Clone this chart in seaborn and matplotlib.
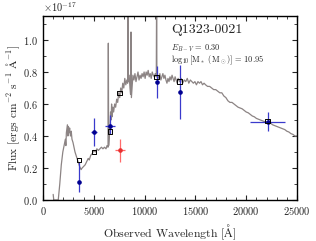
import numpy as np
import pandas as pd
import matplotlib
matplotlib.use("Agg")
import matplotlib.pyplot as plt
import seaborn as sns
from matplotlib.ticker import MultipleLocator, ScalarFormatter

# ---- data (flux in units of 1e-17 erg/cm2/s/A) ----
spec_wave = [1000, 1060, 1500, 1650, 1800, 1950, 2100, 2200, 2250, 2300, 2400, 2450, 2500, 2560,
             2620, 2700, 2780, 2850, 2950, 3050, 3150, 3300, 3450, 3600, 3750, 3850, 4000, 4150,
             4300, 4450, 4550, 4700, 4850, 5000, 5150, 5300, 5450, 5600, 5750, 5900, 6050, 6200,
             6300, 6400, 6430, 6460, 6520, 6600, 6650, 6700, 6750, 6800, 6870, 6950, 7050, 7150,
             7250, 7350, 7450, 7550, 7650, 7750, 7850, 7950, 8050, 8150, 8250, 8330, 8360, 8390,
             8480, 8560, 8620, 8660, 8700, 8780, 8850, 8950, 9050, 9150, 9250, 9350, 9450, 9550,
             9650, 9750, 9850, 9950, 10050, 10150, 10250, 10350, 10450, 10550, 10650, 10750, 10850,
             10950, 11050, 11150, 11180, 11210, 11300, 11400, 11500, 11600, 11700, 11800, 11900,
             12000, 12100, 12200, 12300, 12400, 12500, 12600, 12700, 12800, 12900, 13000, 13100,
             13200, 13300, 13450, 13600, 13750, 13900, 14050, 14200, 14350, 14500, 14650, 14800,
             14950, 15100, 15250, 15400, 15550, 15700, 15850, 16000, 16200, 16400, 16600, 16800,
             17000, 17200, 17400, 17600, 17800, 18000, 18200, 18400, 18600, 18800, 19000, 19200,
             19400, 19600, 19800, 20000, 20200, 20400, 20600, 20800, 21000, 21200, 21400, 21600,
             21800, 22000, 22200, 22400, 22600, 22800, 23000, 23200, 23400, 23600, 23800, 24000,
             24200, 24400, 24600, 24800, 25000, 25200]
spec_flux = [0.035, 0.0, 0.0, 0.10, 0.22, 0.30, 0.35, 0.38, 0.34, 0.42, 0.47, 0.40, 0.46, 0.42,
             0.45, 0.40, 0.43, 0.38, 0.36, 0.33, 0.30, 0.27, 0.24, 0.21, 0.19, 0.20, 0.21, 0.22,
             0.24, 0.26, 0.25, 0.28, 0.29, 0.31, 0.30, 0.32, 0.31, 0.32, 0.33, 0.32, 0.33, 0.32,
             0.34, 0.33, 0.98, 0.34, 0.40, 0.45, 0.55, 0.50, 0.60, 0.52, 0.58, 0.55, 0.60, 0.58,
             0.63, 0.61, 0.67, 0.64, 0.70, 0.67, 0.73, 0.70, 0.76, 0.72, 0.75, 0.73, 1.30, 0.74,
             0.78, 0.70, 0.66, 1.05, 0.64, 0.72, 0.78, 0.75, 0.79, 0.74, 0.77, 0.80, 0.75, 0.78,
             0.76, 0.79, 0.77, 0.80, 0.76, 0.80, 0.78, 0.81, 0.77, 0.79, 0.76, 0.80, 0.78,
             0.77, 0.79, 0.77, 1.30, 0.77, 0.78, 0.76, 0.79, 0.75, 0.77, 0.79, 0.76,
             0.78, 0.75, 0.73, 0.76, 0.74, 0.77, 0.75, 0.78, 0.76, 0.74, 0.77, 0.75,
             0.73, 0.76, 0.74, 0.76, 0.73, 0.75, 0.74, 0.76, 0.73, 0.75, 0.74, 0.73,
             0.74, 0.72, 0.74, 0.73, 0.74, 0.72, 0.73, 0.72, 0.71, 0.71, 0.70, 0.69,
             0.69, 0.68, 0.67, 0.67, 0.65, 0.64, 0.62, 0.61, 0.61, 0.60, 0.59, 0.58,
             0.575, 0.57, 0.56, 0.55, 0.545, 0.535, 0.525, 0.52, 0.51, 0.505, 0.50, 0.495,
             0.49, 0.49, 0.485, 0.48, 0.47, 0.465, 0.46, 0.455, 0.45, 0.445, 0.44, 0.43,
             0.425, 0.415, 0.41, 0.40, 0.40, 0.395]

# observed photometry (blue)
obs_wave = [3550, 5000, 6600, 11200, 13450, 22100]
obs_flux = [0.11, 0.425, 0.465, 0.74, 0.675, 0.49]
obs_err_lo = [0.06, 0.085, 0.05, 0.10, 0.17, 0.06]
obs_err_hi = [0.13, 0.085, 0.065, 0.10, 0.17, 0.06]
obs_xerr = [0, 300, 500, 0, 0, 1700]

# excluded point (red)
red_wave = [7600]
red_flux = [0.31]
red_err = [0.07]
red_xerr = [500]

# model photometry (open squares)
mod_wave = [3550, 5000, 6600, 7500, 11200, 13450, 22100]
mod_flux = [0.25, 0.30, 0.43, 0.67, 0.77, 0.74, 0.495]

SCALE = 1e-17

sns.set_style("ticks")
plt.rcParams['font.family'] = 'serif'
plt.rcParams['font.serif'] = ['cmr10', 'DejaVu Serif']
plt.rcParams['mathtext.fontset'] = 'cm'
plt.rcParams['axes.formatter.use_mathtext'] = True
plt.rcParams['axes.unicode_minus'] = True

fig = plt.figure(figsize=(3.16, 2.41), dpi=100)
ax = fig.add_axes([0.1361, 0.1701, 0.8038, 0.7635])

spec = pd.DataFrame({"wave": spec_wave, "flux": np.array(spec_flux) * SCALE})
sns.lineplot(data=spec, x="wave", y="flux", ax=ax, color="#8c8484", lw=0.9,
             estimator=None, sort=False)

ax.errorbar(obs_wave, np.array(obs_flux) * SCALE,
            yerr=[np.array(obs_err_lo) * SCALE, np.array(obs_err_hi) * SCALE],
            xerr=obs_xerr, fmt='o', ms=2.3, color='#000090', ecolor='#3a3acc',
            elinewidth=0.9, capsize=0, zorder=4)
ax.errorbar(red_wave, np.array(red_flux) * SCALE, yerr=np.array(red_err) * SCALE,
            xerr=red_xerr, fmt='o', ms=2.3, color='#e83030', ecolor='#ff6a6a',
            elinewidth=0.9, capsize=0, zorder=4)

mod = pd.DataFrame({"wave": mod_wave, "flux": np.array(mod_flux) * SCALE})
sns.scatterplot(data=mod, x="wave", y="flux", ax=ax, marker='s', s=11,
                facecolor='none', edgecolor='black', linewidth=0.7, zorder=5)

ax.set_xlim(0, 25000)
ax.set_ylim(0, 1.15e-17)
ax.xaxis.set_major_locator(MultipleLocator(5000))
ax.xaxis.set_minor_locator(MultipleLocator(1000))
ax.yaxis.set_major_locator(MultipleLocator(0.2e-17))
ax.yaxis.set_minor_locator(MultipleLocator(0.1e-17))
fmt = ScalarFormatter(useMathText=True)
fmt.set_powerlimits((0, 0))
ax.yaxis.set_major_formatter(fmt)
ax.tick_params(which='both', direction='in', top=True, right=True, labelsize=7.5)
ax.tick_params(which='major', length=3.5, width=0.8)
ax.tick_params(which='minor', length=2, width=0.6)
ax.yaxis.get_offset_text().set_fontsize(7.5)
for s in ax.spines.values():
    s.set_linewidth(1.0)
    s.set_color('black')

ax.set_xlabel(r'Observed Wavelength [$\mathrm{\AA}$]', fontsize=8.5)
ax.set_ylabel(r'Flux [ergs cm$^{-2}$ s$^{-1}$ $\mathrm{\AA}^{-1}$]', fontsize=8.2,
              labelpad=1)

ax.text(0.504, 0.924, 'Q1323-0021', transform=ax.transAxes, fontsize=10,
        ha='left', va='center')
ax.text(0.504, 0.826, r'$E_{B-V}$ = 0.30', transform=ax.transAxes, fontsize=6,
        ha='left', va='center')
ax.text(0.504, 0.761, r'$\log_{10}[\mathrm{M}_*\ (\mathrm{M}_\odot)]$ = 10.95',
        transform=ax.transAxes, fontsize=6, ha='left', va='center')

fig.savefig("out.png", dpi=100)
